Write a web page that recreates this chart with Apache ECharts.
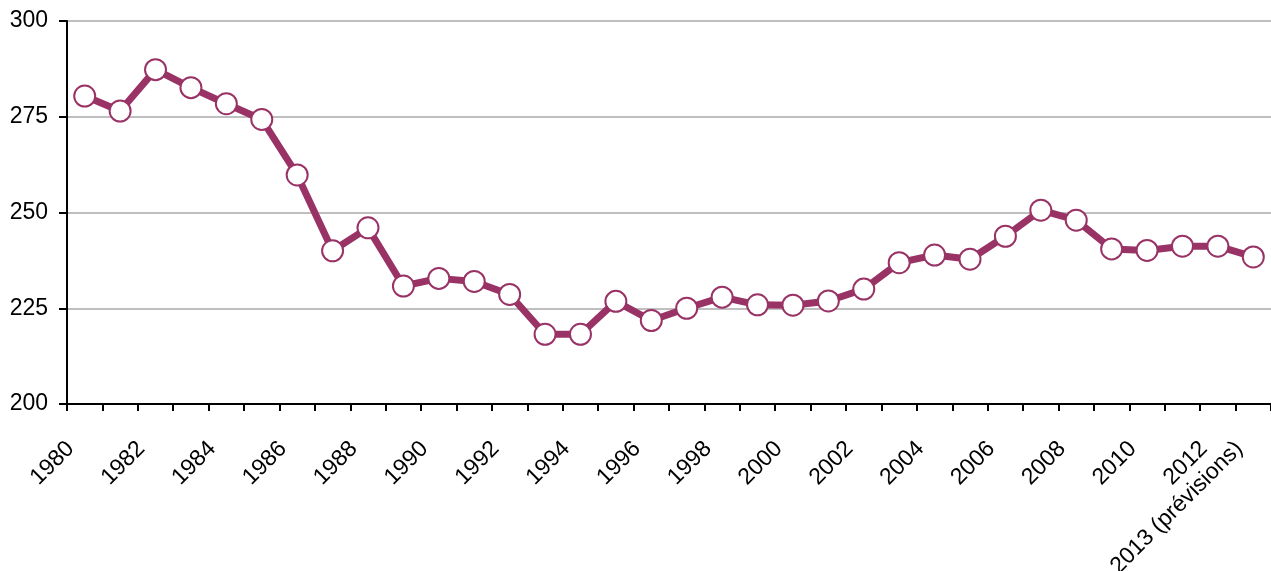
<!DOCTYPE html>
<html>
<head>
<meta charset="utf-8">
<script src="https://cdn.jsdelivr.net/npm/echarts@6/dist/echarts.min.js"></script>
<style>
  html, body { margin: 0; padding: 0; background: #fff; }
  #chart { width: 1271px; height: 571px; }
</style>
</head>
<body>
<div id="chart"></div>
<script>
  var years = ['1980','1981','1982','1983','1984','1985','1986','1987','1988','1989',
    '1990','1991','1992','1993','1994','1995','1996','1997','1998','1999',
    '2000','2001','2002','2003','2004','2005','2006','2007','2008','2009',
    '2010','2011','2012','2013 (prévisions)'];
  var values = [280.4, 276.5, 287.3, 282.6, 278.4, 274.3, 259.8, 240.0, 246.0, 230.8,
    232.8, 232.0, 228.6, 218.2, 218.2, 226.8, 221.8, 225.0, 227.9, 225.9,
    225.8, 226.9, 230.0, 236.9, 238.9, 237.8, 243.8, 250.6, 248.0, 240.5,
    240.1, 241.2, 241.2, 238.4];
  var yTicks = [200, 225, 250, 275, 300];

  var myChart = echarts.init(document.getElementById('chart'));
  var option = {
    animation: false,
    grid: {
      left: 67,
      right: 0,
      top: 21,
      bottom: 167,
      outerBoundsMode: 'none'
    },
    xAxis: {
      type: 'category',
      data: years,
      boundaryGap: true,
      axisLine: { lineStyle: { color: '#000', width: 2 } },
      axisTick: { show: true, interval: 0, length: 7, lineStyle: { color: '#000', width: 2 } },
      axisLabel: {
        interval: function (index) {
          return index % 2 === 0 || index === years.length - 1;
        },
        rotate: 45,
        margin: 27,
        padding: [0, 20, 0, 0],
        color: '#000',
        fontFamily: 'Liberation Sans',
        fontSize: 23
      },
      splitLine: { show: false }
    },
    yAxis: {
      type: 'value',
      min: yTicks[0],
      max: yTicks[yTicks.length - 1],
      interval: 25,
      axisLine: { show: true, lineStyle: { color: '#000', width: 2 } },
      axisTick: { show: true, length: 8, lineStyle: { color: '#000', width: 2 } },
      axisLabel: {
        color: '#000',
        fontFamily: 'Liberation Sans',
        fontSize: 23,
        margin: 19
      },
      splitLine: { show: true, lineStyle: { color: '#bfbfbf', width: 2 } }
    },
    series: [{
      type: 'line',
      data: values,
      symbol: 'circle',
      symbolSize: 21,
      lineStyle: { color: '#993366', width: 7 },
      itemStyle: { color: '#fff', borderColor: '#993366', borderWidth: 2 },
      z: 5
    }]
  };
  myChart.setOption(option);
</script>
</body>
</html>
